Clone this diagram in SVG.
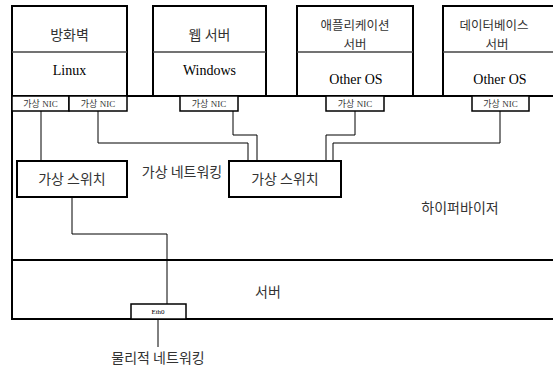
<svg xmlns="http://www.w3.org/2000/svg" width="553" height="367" viewBox="0 0 553 367">
  <style>
    .box { fill: #fff; stroke: #000; stroke-width: 2; }
    .div { stroke: #444; stroke-width: 1.5; }
    .nic { fill: #fff; stroke: #000; stroke-width: 1.5; }
    .wire { fill: none; stroke: #000; stroke-width: 1; }
    .ko { font-family: "Noto Sans CJK KR", "Noto Sans", sans-serif; fill: #333; text-anchor: middle; font-size: 14px; }
    .ko2 { font-family: "Noto Sans CJK KR", "Noto Sans", sans-serif; fill: #333; text-anchor: middle; font-size: 12.5px; }
    .en { font-family: "Liberation Serif", "DejaVu Serif", serif; fill: #000; text-anchor: middle; font-size: 14px; }
    .nict { font-family: "Liberation Serif", "Noto Sans CJK KR", serif; fill: #333; text-anchor: middle; font-size: 9px; }
  </style>
  <rect width="553" height="367" fill="#fff"/>

  <!-- hypervisor layer -->
  <g id="hypervisor">
    <rect class="box" x="12" y="96" width="560" height="164"/>
    <text class="ko" x="460" y="213">하이퍼바이저</text>
  </g>

  <!-- physical server layer -->
  <g id="server">
    <rect class="box" x="12" y="260" width="560" height="59"/>
    <text class="ko" x="268" y="297">서버</text>
  </g>

  <!-- connectors -->
  <g id="connectors">
    <polyline class="wire" points="41,111 41,161"/>
    <polyline class="wire" points="72,197 72,234 167,234 167,304"/>
    <polyline class="wire" points="158,319 158,347"/>
    <polyline class="wire" points="98,111 98,143 248,143 248,161"/>
    <polyline class="wire" points="233,111 233,135 257,135 257,161"/>
    <polyline class="wire" points="355,111 355,135 326,135 326,161"/>
    <polyline class="wire" points="500,111 500,143 333,143 333,161"/>
  </g>

  <!-- virtual machines -->
  <g id="vm-firewall">
    <rect class="box" x="12" y="6" width="115" height="90"/>
    <line class="div" x1="12" y1="52" x2="127" y2="52"/>
    <text class="ko" x="69.5" y="40">방화벽</text>
    <text class="en" x="69.5" y="75">Linux</text>
  </g>
  <g id="vm-web">
    <rect class="box" x="153" y="6" width="113" height="90"/>
    <line class="div" x1="153" y1="52" x2="266" y2="52"/>
    <text class="ko" x="209.5" y="40">웹 서버</text>
    <text class="en" x="209.5" y="75">Windows</text>
  </g>
  <g id="vm-app">
    <rect class="box" x="297" y="6" width="116" height="90"/>
    <line class="div" x1="297" y1="52" x2="413" y2="52"/>
    <text class="ko2" x="355" y="30">애플리케이션</text>
    <text class="ko2" x="355" y="48.5">서버</text>
    <text class="en" x="356" y="84">Other OS</text>
  </g>
  <g id="vm-db">
    <rect class="box" x="443" y="6" width="120" height="90"/>
    <line class="div" x1="443" y1="52" x2="563" y2="52"/>
    <text class="ko2" x="494" y="30">데이터베이스</text>
    <text class="ko2" x="497" y="48.5">서버</text>
    <text class="en" x="500" y="84">Other OS</text>
  </g>

  <!-- virtual NICs -->
  <g id="nic-fw-1">
    <rect class="nic" x="12" y="96" width="57" height="15"/>
    <text class="nict" x="40.5" y="107">가상 NIC</text>
  </g>
  <g id="nic-fw-2">
    <rect class="nic" x="69" y="96" width="58" height="15"/>
    <text class="nict" x="98" y="107">가상 NIC</text>
  </g>
  <g id="nic-web">
    <rect class="nic" x="180" y="96" width="58" height="15"/>
    <text class="nict" x="209" y="107">가상 NIC</text>
  </g>
  <g id="nic-app">
    <rect class="nic" x="326" y="96" width="58" height="15"/>
    <text class="nict" x="355" y="107">가상 NIC</text>
  </g>
  <g id="nic-db">
    <rect class="nic" x="472" y="96" width="57" height="15"/>
    <text class="nict" x="500.5" y="107">가상 NIC</text>
  </g>

  <!-- virtual switches -->
  <g id="vswitch-1">
    <rect class="box" x="17" y="161" width="110" height="36"/>
    <text class="ko" x="72" y="184">가상 스위치</text>
  </g>
  <g id="vswitch-2">
    <rect class="box" x="229" y="161" width="112" height="36"/>
    <text class="ko" x="285" y="184">가상 스위치</text>
  </g>

  <g id="virtual-networking-label">
    <text class="ko" x="182" y="177">가상 네트워킹</text>
  </g>

  <!-- physical NIC -->
  <g id="eth0">
    <rect class="nic" x="131" y="304" width="55" height="15"/>
    <text class="en" x="158" y="314" style="font-size:7px">Eth0</text>
  </g>

  <g id="physical-networking-label">
    <text class="ko" x="158" y="363">물리적 네트워킹</text>
  </g>
</svg>
